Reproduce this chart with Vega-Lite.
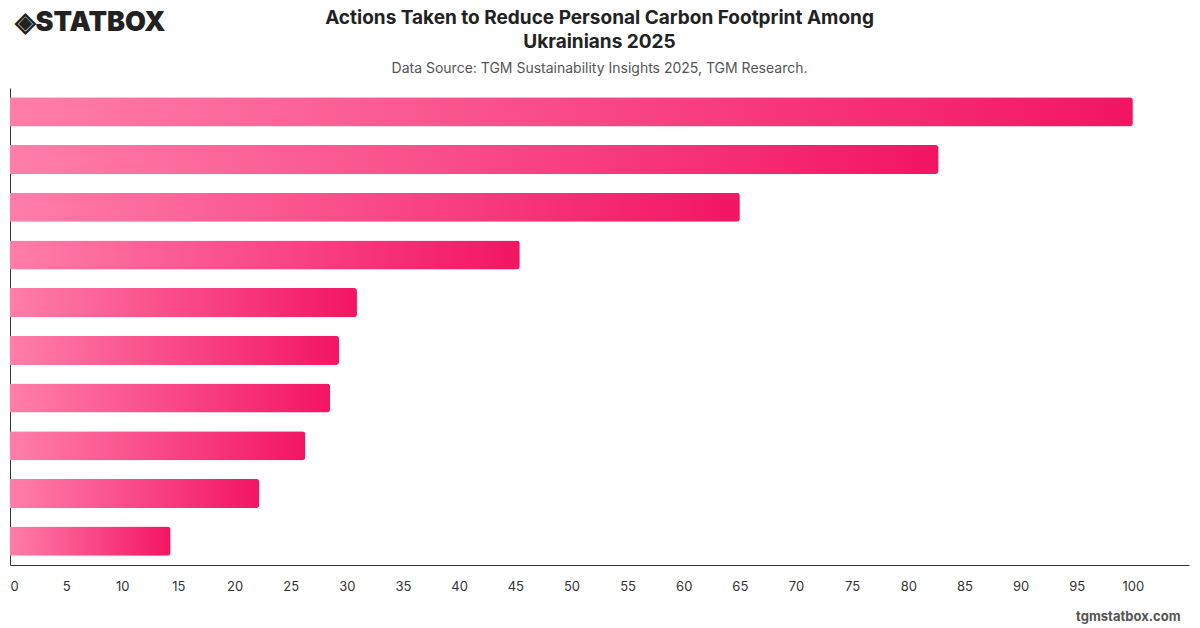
{
  "$schema": "https://vega.github.io/schema/vega-lite/v6.json",
  "autosize": {"type": "none"},
  "width": 1179,
  "height": 477,
  "padding": {"left": 10, "top": 88, "right": 11, "bottom": 63},
  "background": "white",
  "config": {
    "font": "Inter",
    "view": {"stroke": null}
  },
  "title": {
    "text": ["Actions Taken to Reduce Personal Carbon Footprint Among", "Ukrainians 2025"],
    "subtitle": "Data Source: TGM Sustainability Insights 2025, TGM Research.",
    "anchor": "middle",
    "font": "Inter",
    "fontSize": 19,
    "fontWeight": "bold",
    "color": "#222222",
    "lineHeight": 24,
    "subtitleFont": "Inter",
    "subtitleFontSize": 14,
    "subtitleColor": "#555555",
    "subtitlePadding": 10,
    "offset": 14,
    "dy": 82
  },
  "data": {
    "values": [
      {"action": "Reducing energy use at home", "value": 100},
      {"action": "Recycling household waste", "value": 82.7},
      {"action": "Using public transport", "value": 65.0},
      {"action": "Reducing single-use plastics", "value": 45.4},
      {"action": "Buying local products", "value": 30.9},
      {"action": "Walking or cycling more", "value": 29.3},
      {"action": "Reducing water consumption", "value": 28.5},
      {"action": "Eating less meat", "value": 26.3},
      {"action": "Buying second-hand items", "value": 22.2},
      {"action": "Using renewable energy", "value": 14.3}
    ]
  },
  "mark": {
    "type": "bar",
    "cornerRadiusEnd": 3,
    "color": {
      "gradient": "linear",
      "x1": 0, "x2": 1, "y1": 0, "y2": 0,
      "stops": [
        {"offset": 0, "color": "#ff7eaa"},
        {"offset": 1, "color": "#f31562"}
      ]
    }
  },
  "encoding": {
    "y": {
      "field": "action",
      "type": "nominal",
      "sort": {"field": "value", "order": "descending"},
      "scale": {"paddingInner": 0.39, "paddingOuter": 0.195},
      "axis": {
        "labels": false,
        "ticks": false,
        "domain": true,
        "domainColor": "#333333",
        "domainWidth": 1,
        "grid": false,
        "title": "◈STATBOX",
        "titleAngle": 0,
        "titleAlign": "left",
        "titleBaseline": "middle",
        "titleX": 4,
        "titleY": -66,
        "titleFont": "Inter",
        "titleFontSize": 27,
        "titleFontWeight": 900,
        "titleColor": "#222222"
      }
    },
    "x": {
      "field": "value",
      "type": "quantitative",
      "scale": {"domain": [0, 105], "nice": false},
      "axis": {
        "values": [0, 5, 10, 15, 20, 25, 30, 35, 40, 45, 50, 55, 60, 65, 70, 75, 80, 85, 90, 95, 100],
        "ticks": false,
        "grid": false,
        "domainColor": "#333333",
        "domainWidth": 1,
        "labelPadding": 15,
        "labelFontSize": 13,
        "labelColor": "#333333",
        "labelFont": "Inter",
        "title": "tgmstatbox.com",
        "titleAnchor": "end",
        "titleAlign": "right",
        "titleBaseline": "middle",
        "titleX": 1170,
        "titleY": 51,
        "titleFont": "Inter",
        "titleFontSize": 13,
        "titleFontWeight": "bold",
        "titleColor": "#555555"
      }
    }
  }
}
